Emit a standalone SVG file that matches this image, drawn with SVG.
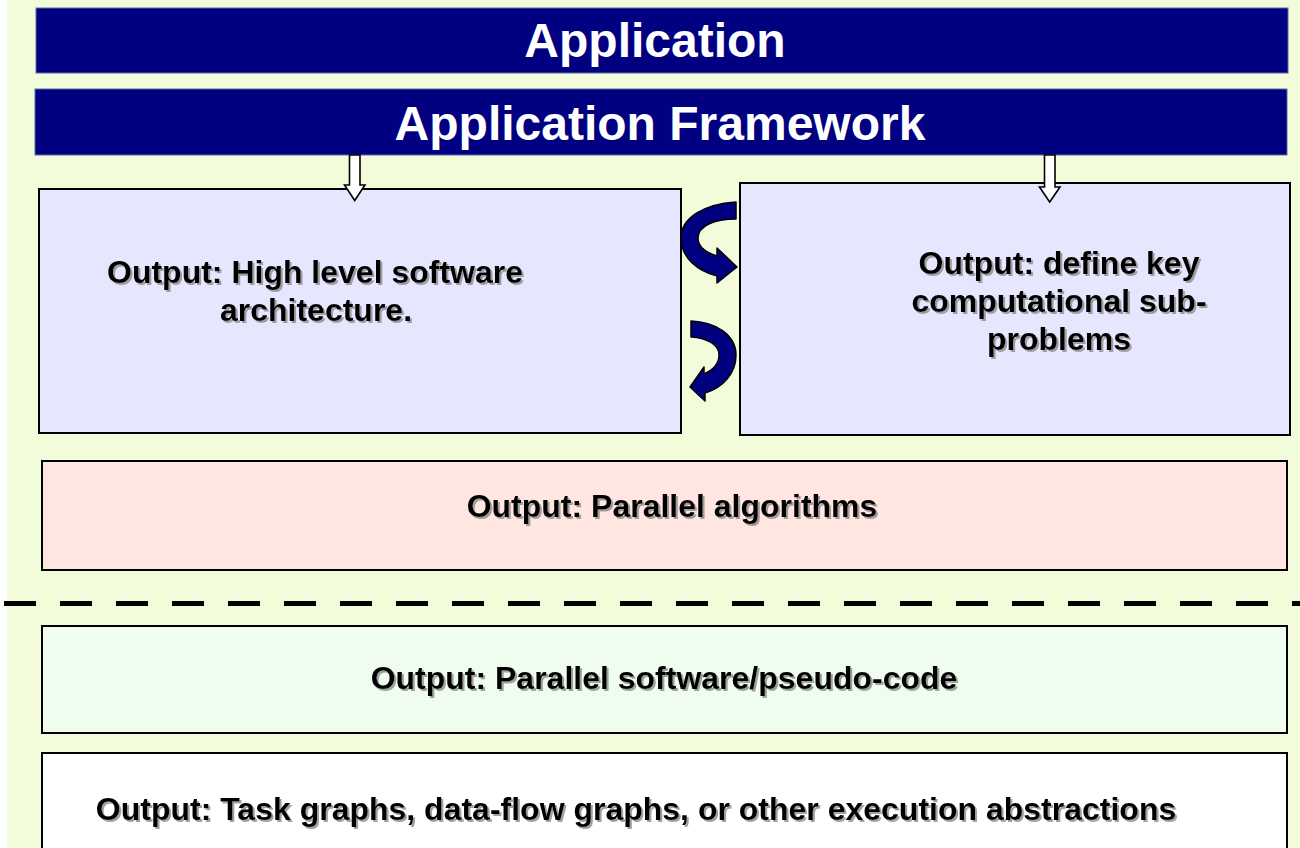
<svg xmlns="http://www.w3.org/2000/svg" width="1300" height="848" viewBox="0 0 1300 848">
  <defs>
    <filter id="shadow" x="-5%" y="-20%" width="110%" height="150%">
      <feDropShadow dx="2" dy="2" stdDeviation="0.7" flood-color="#8a8a8a" flood-opacity="0.8"/>
    </filter>
    <style>
      .bar { fill: #000080; stroke: #5a6aa8; stroke-width: 1; }
      .box { stroke: #000; stroke-width: 2; }
      .title { font-family: "Liberation Sans", Arial, sans-serif; font-weight: bold; font-size: 48px; fill: #fff; text-anchor: middle; }
      .label { font-family: "Liberation Sans", Arial, sans-serif; font-weight: bold; font-size: 32px; fill: #000; text-anchor: middle; filter: url(#shadow); }
      .hollow { fill: #fff; stroke: #000; stroke-width: 1.6; stroke-linejoin: miter; }
      .curl { fill: #000080; stroke: #000; stroke-width: 1.5; stroke-linejoin: round; }
      .divider { stroke: #000; stroke-width: 5; stroke-dasharray: 32 24; }
    </style>
  </defs>

  <!-- page background -->
  <rect x="0" y="0" width="1300" height="848" fill="#ffffff"/>
  <rect x="7" y="0" width="1293" height="848" fill="#f2fcda"/>

  <!-- header bars -->
  <g id="application">
    <rect class="bar" x="36" y="8" width="1252" height="65"/>
    <text class="title" x="655" y="57">Application</text>
  </g>
  <g id="application-framework">
    <rect class="bar" x="35" y="89" width="1252" height="66"/>
    <text class="title" x="660" y="140">Application Framework</text>
  </g>

  <!-- architecture box -->
  <g id="architecture">
    <rect class="box" x="39" y="189" width="642" height="244" fill="#e6e6ff"/>
    <text class="label" x="315" y="283">Output: High level software</text>
    <text class="label" x="316" y="321">architecture.</text>
  </g>

  <!-- sub-problems box -->
  <g id="subproblems">
    <rect class="box" x="740" y="183" width="550" height="252" fill="#e6e6ff"/>
    <text class="label" x="1059" y="274">Output: define key</text>
    <text class="label" x="1059" y="312">computational sub-</text>
    <text class="label" x="1059" y="350">problems</text>
  </g>

  <!-- algorithms box -->
  <g id="algorithms">
    <rect class="box" x="42" y="461" width="1245" height="109" fill="#ffe6e0"/>
    <text class="label" x="672" y="517">Output: Parallel algorithms</text>
  </g>

  <!-- software / pseudo-code box -->
  <g id="pseudocode">
    <rect class="box" x="42" y="626" width="1245" height="107" fill="#eefdee"/>
    <text class="label" x="664" y="689">Output: Parallel software/pseudo-code</text>
  </g>

  <!-- execution abstractions box -->
  <g id="abstractions">
    <rect class="box" x="42" y="753" width="1245" height="110" fill="#ffffff"/>
    <text class="label" x="636" y="820">Output: Task graphs, data-flow graphs, or other execution abstractions</text>
  </g>

  <!-- connectors -->
  <g id="connectors">
    <!-- hollow block arrows from the framework bar -->
    <path class="hollow" d="M349.5,155 L360,155 L360,185 L365,185 L354.7,200.5 L344.5,185 L349.5,185 Z"/>
    <path class="hollow" d="M1044.5,155 L1055,155 L1055,187 L1060,187 L1049.7,202 L1039.5,187 L1044.5,187 Z"/>
    <!-- curved exchange arrows between the two boxes -->
    <path class="curl" d="M736,202 C704,204 681,218 681,238 C681,258 698,271 717,276 L717,283 L737,267 L717,248 L717,256 C704,252 698,246 698,238 C698,226 714,219 736,219 Z"/>
    <path class="curl" d="M691,321 L691,337 C708,338 719,345 719,355 C719,364 713,370 704,374 L704,367 L690,387 L705,401 L705,393 C723,388 736,373 736,355 C736,335 716,322 691,321 Z"/>
    <!-- boundary between algorithm and software levels -->
    <line class="divider" x1="4" y1="603.5" x2="1300" y2="603.5"/>
  </g>
</svg>
